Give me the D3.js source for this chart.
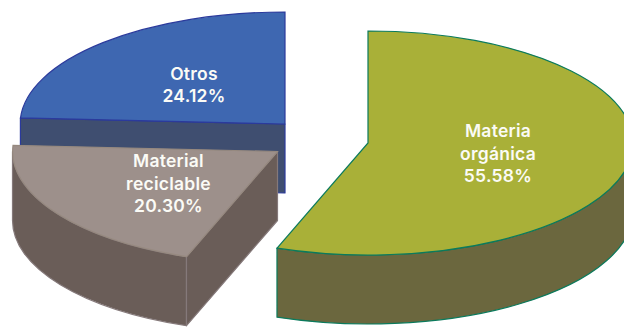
<!DOCTYPE html>
<html>
<head>
<meta charset="utf-8">
<script src="https://cdn.jsdelivr.net/npm/d3@7"></script>
<style>
html,body{margin:0;padding:0;background:#fff;overflow:hidden}
svg{display:block}
text{font-family:"Inter",sans-serif;font-weight:600;fill:#fbfbf6;font-size:17.5px;letter-spacing:.25px;text-anchor:middle}
</style>
</head>
<body>
<svg id="chart" width="624" height="327"></svg>
<script>
// Composition of the waste stream, in percent
const categories = ["Materia orgánica", "Material reciclable", "Otros"];
const shares = [55.58, 20.30, 24.12];
const labelLines = [["Materia", "orgánica", "55.58%"], ["Material", "reciclable", "20.30%"], ["Otros", "24.12%"]];

// Tilted-disc geometry and per-slice explosion
const radiusX = 265, radiusY = 112, depth = 69;
const sliceCentreX = [368, 277.5, 285];
const sliceCentreY = [143, 151.5, 124];
const labelX = [498, 168.5, 194];
const labelY = [137, 167, 79.5];
const lineHeight = 22.6;

// Colours: top face, side wall, outline, wall outline
const topFill = ["#a9b038", "#9d908b", "#3e67b1"];
const sideFill = ["#6b673e", "#6a5d58", "#3f4e70"];
const topStroke = ["#0b7a5c", "#96897f", "#2b3a9c"];
const sideStroke = ["#0b7a5c", "#85797a", "#2b3a9c"];
const outlineWidth = 1.2;

const svg = d3.select("#chart");
const pie = d3.pie().sort(null).startAngle(0).endAngle(2 * Math.PI);
const arcs = pie(shares);
const unitArc = d3.arc().innerRadius(0).outerRadius(1);

const px = (i, a) => sliceCentreX[i] + radiusX * Math.sin(a);
const py = (i, a) => sliceCentreY[i] - radiusY * Math.cos(a);

// Outer rim wall: only the part of the arc on the near half of the disc shows
function rimPath(i, d) {
  const a0 = Math.max(d.startAngle, Math.PI / 2);
  const a1 = Math.min(d.endAngle, 1.5 * Math.PI);
  if (a1 <= a0) return null;
  const from = [px(i, a0), py(i, a0)];
  const to = [px(i, a1), py(i, a1)];
  const large = a1 - a0 > Math.PI ? 1 : 0;
  return `M${from}A${radiusX},${radiusY} 0 ${large} 1 ${to}` +
    `L${to[0]},${to[1] + depth}` +
    `A${radiusX},${radiusY} 0 ${large} 0 ${from[0]},${from[1] + depth}Z`;
}

// Cut wall along the slice's starting radius; faces the viewer when it lies on the left half
function cutPath(i, d) {
  const a = d.startAngle;
  if (Math.sin(a) >= -1e-6) return null;
  return d3.line()([
    [sliceCentreX[i], sliceCentreY[i]],
    [px(i, a), py(i, a)],
    [px(i, a), py(i, a) + depth],
    [sliceCentreX[i], sliceCentreY[i] + depth]
  ]) + "Z";
}

// Paint back-to-front: Otros, then reciclable, then the large slice
const order = [2, 1, 0];
order.forEach(i => {
  const d = arcs[i];
  const g = svg.append("g").attr("class", "slice").attr("aria-label", categories[i]);
  [rimPath(i, d), cutPath(i, d)].filter(Boolean).forEach(s => {
    g.append("path").attr("d", s)
      .attr("fill", sideFill[i])
      .attr("stroke", sideStroke[i])
      .attr("stroke-width", outlineWidth)
      .attr("stroke-linejoin", "round");
  });
  g.append("path")
    .attr("d", unitArc(d))
    .attr("transform", `translate(${sliceCentreX[i]},${sliceCentreY[i]}) scale(${radiusX},${radiusY})`)
    .attr("fill", topFill[i])
    .attr("stroke", topStroke[i])
    .attr("stroke-width", outlineWidth)
    .attr("vector-effect", "non-scaling-stroke");
});

// Labels sit on the top faces
order.forEach(i => {
  const t = svg.append("text").attr("x", labelX[i]).attr("y", labelY[i]);
  labelLines[i].forEach((ln, k) => {
    t.append("tspan").attr("x", labelX[i]).attr("dy", k ? lineHeight : 0).text(ln);
  });
});
</script>
</body>
</html>
